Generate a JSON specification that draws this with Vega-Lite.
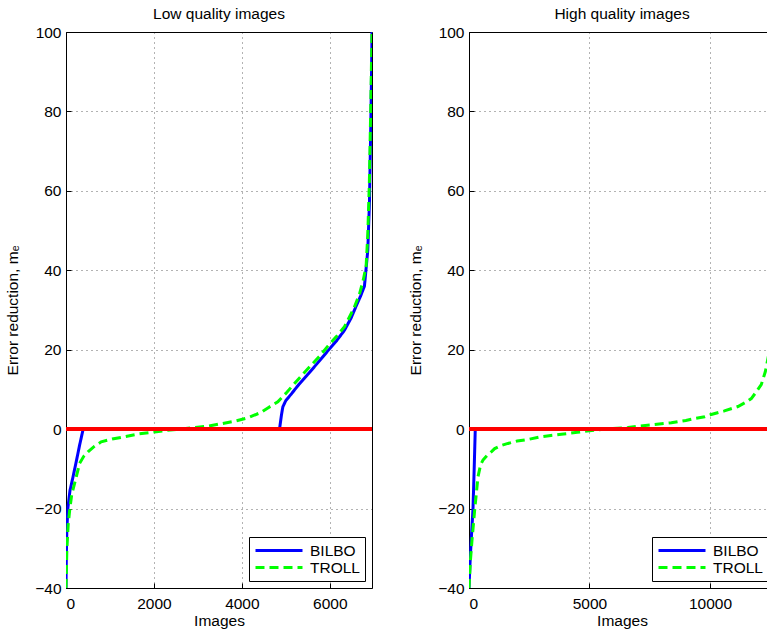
{
  "$schema": "https://vega.github.io/schema/vega-lite/v6.json",
  "padding": {"left": 5, "top": 6, "right": 0, "bottom": 0},
  "bounds": "flush",
  "spacing": 97,
  "config": {
    "font": "Liberation Sans",
    "view": {"stroke": "#000000", "strokeWidth": 1},
    "axis": {
      "grid": true,
      "gridColor": "#000000",
      "gridOpacity": 0.6,
      "gridDash": [1, 4],
      "gridWidth": 1,
      "domain": false,
      "ticks": true,
      "tickColor": "#000000",
      "tickSize": -5,
      "labelFontSize": 15.5,
      "labelColor": "#000000",
      "labelFont": "Liberation Sans",
      "titleFontSize": 15.5,
      "titleFontWeight": "normal",
      "titleColor": "#000000",
      "titleFont": "Liberation Sans"
    },
    "title": {"fontSize": 15.5, "fontWeight": "normal", "color": "#000000", "font": "Liberation Sans", "offset": 3, "frame": "group"},
    "legend": {
      "orient": "bottom-right",
      "offset": 7,
      "padding": 5,
      "strokeColor": "#000000",
      "fillColor": "#ffffff",
      "symbolType": "stroke",
      "symbolSize": 2209,
      "symbolStrokeWidth": 3,
      "labelFontSize": 15.5,
      "labelColor": "#000000",
      "labelFont": "Liberation Sans",
      "labelOffset": 6,
      "clipHeight": 17,
      "rowPadding": 0,
      "cornerRadius": 0
    }
  },
  "datasets": {
    "low": [
      {"x": 0, "y": -40, "method": "BILBO"},
      {"x": 8, "y": -32, "method": "BILBO"},
      {"x": 20, "y": -25, "method": "BILBO"},
      {"x": 45, "y": -19.6, "method": "BILBO"},
      {"x": 90, "y": -15.5, "method": "BILBO"},
      {"x": 160, "y": -12, "method": "BILBO"},
      {"x": 240, "y": -7.8, "method": "BILBO"},
      {"x": 310, "y": -4, "method": "BILBO"},
      {"x": 390, "y": 0, "method": "BILBO"},
      {"x": 4856, "y": 0, "method": "BILBO"},
      {"x": 4900, "y": 3.5, "method": "BILBO"},
      {"x": 4932, "y": 5.6, "method": "BILBO"},
      {"x": 5000, "y": 7.2, "method": "BILBO"},
      {"x": 5121, "y": 8.8, "method": "BILBO"},
      {"x": 5300, "y": 11.3, "method": "BILBO"},
      {"x": 5500, "y": 13.8, "method": "BILBO"},
      {"x": 5750, "y": 17, "method": "BILBO"},
      {"x": 5955, "y": 19.7, "method": "BILBO"},
      {"x": 6150, "y": 22.2, "method": "BILBO"},
      {"x": 6334, "y": 24.9, "method": "BILBO"},
      {"x": 6485, "y": 28, "method": "BILBO"},
      {"x": 6600, "y": 31, "method": "BILBO"},
      {"x": 6700, "y": 33.5, "method": "BILBO"},
      {"x": 6788, "y": 36, "method": "BILBO"},
      {"x": 6864, "y": 45, "method": "BILBO"},
      {"x": 6902, "y": 57, "method": "BILBO"},
      {"x": 6930, "y": 75, "method": "BILBO"},
      {"x": 6950, "y": 90, "method": "BILBO"},
      {"x": 6960, "y": 100, "method": "BILBO"},
      {"x": 0, "y": -40, "method": "TROLL"},
      {"x": 20, "y": -30, "method": "TROLL"},
      {"x": 50, "y": -24, "method": "TROLL"},
      {"x": 84, "y": -20.4, "method": "TROLL"},
      {"x": 130, "y": -16.5, "method": "TROLL"},
      {"x": 197, "y": -13.6, "method": "TROLL"},
      {"x": 310, "y": -8.6, "method": "TROLL"},
      {"x": 400, "y": -6.9, "method": "TROLL"},
      {"x": 500, "y": -5.7, "method": "TROLL"},
      {"x": 650, "y": -4.3, "method": "TROLL"},
      {"x": 800, "y": -3.2, "method": "TROLL"},
      {"x": 1050, "y": -2.5, "method": "TROLL"},
      {"x": 1333, "y": -1.9, "method": "TROLL"},
      {"x": 1650, "y": -1.2, "method": "TROLL"},
      {"x": 2015, "y": -0.7, "method": "TROLL"},
      {"x": 2300, "y": -0.3, "method": "TROLL"},
      {"x": 2614, "y": 0, "method": "TROLL"},
      {"x": 2900, "y": 0.4, "method": "TROLL"},
      {"x": 3227, "y": 0.75, "method": "TROLL"},
      {"x": 3500, "y": 1.3, "method": "TROLL"},
      {"x": 3834, "y": 2, "method": "TROLL"},
      {"x": 4150, "y": 2.9, "method": "TROLL"},
      {"x": 4432, "y": 4.2, "method": "TROLL"},
      {"x": 4600, "y": 5.4, "method": "TROLL"},
      {"x": 4818, "y": 6.9, "method": "TROLL"},
      {"x": 5000, "y": 9, "method": "TROLL"},
      {"x": 5197, "y": 11.5, "method": "TROLL"},
      {"x": 5400, "y": 14, "method": "TROLL"},
      {"x": 5576, "y": 16.1, "method": "TROLL"},
      {"x": 5780, "y": 18.5, "method": "TROLL"},
      {"x": 5955, "y": 20.9, "method": "TROLL"},
      {"x": 6150, "y": 23.3, "method": "TROLL"},
      {"x": 6334, "y": 25.8, "method": "TROLL"},
      {"x": 6450, "y": 28.3, "method": "TROLL"},
      {"x": 6550, "y": 30.5, "method": "TROLL"},
      {"x": 6675, "y": 34, "method": "TROLL"},
      {"x": 6760, "y": 37.5, "method": "TROLL"},
      {"x": 6826, "y": 41, "method": "TROLL"},
      {"x": 6864, "y": 49, "method": "TROLL"},
      {"x": 6900, "y": 62, "method": "TROLL"},
      {"x": 6930, "y": 80, "method": "TROLL"},
      {"x": 6960, "y": 100, "method": "TROLL"}
    ],
    "high": [
      {"x": 0, "y": -40, "method": "BILBO"},
      {"x": 40, "y": -34, "method": "BILBO"},
      {"x": 100, "y": -27, "method": "BILBO"},
      {"x": 166, "y": -20, "method": "BILBO"},
      {"x": 215, "y": -10, "method": "BILBO"},
      {"x": 260, "y": 0, "method": "BILBO"},
      {"x": 12550, "y": 0, "method": "BILBO"},
      {"x": 12640, "y": 20, "method": "BILBO"},
      {"x": 12700, "y": 100, "method": "BILBO"},
      {"x": 0, "y": -40, "method": "TROLL"},
      {"x": 60, "y": -33, "method": "TROLL"},
      {"x": 124, "y": -28, "method": "TROLL"},
      {"x": 235, "y": -20.4, "method": "TROLL"},
      {"x": 373, "y": -12, "method": "TROLL"},
      {"x": 480, "y": -9, "method": "TROLL"},
      {"x": 581, "y": -7.8, "method": "TROLL"},
      {"x": 750, "y": -6.6, "method": "TROLL"},
      {"x": 925, "y": -5.7, "method": "TROLL"},
      {"x": 1066, "y": -4.9, "method": "TROLL"},
      {"x": 1300, "y": -4.2, "method": "TROLL"},
      {"x": 1618, "y": -3.6, "method": "TROLL"},
      {"x": 2000, "y": -3, "method": "TROLL"},
      {"x": 2448, "y": -2.6, "method": "TROLL"},
      {"x": 2900, "y": -2, "method": "TROLL"},
      {"x": 3400, "y": -1.6, "method": "TROLL"},
      {"x": 3830, "y": -1.3, "method": "TROLL"},
      {"x": 4500, "y": -0.8, "method": "TROLL"},
      {"x": 5216, "y": -0.25, "method": "TROLL"},
      {"x": 5800, "y": 0.1, "method": "TROLL"},
      {"x": 6600, "y": 0.4, "method": "TROLL"},
      {"x": 7014, "y": 0.75, "method": "TROLL"},
      {"x": 7600, "y": 1.1, "method": "TROLL"},
      {"x": 8398, "y": 1.6, "method": "TROLL"},
      {"x": 9000, "y": 2.2, "method": "TROLL"},
      {"x": 9366, "y": 2.7, "method": "TROLL"},
      {"x": 9781, "y": 3.1, "method": "TROLL"},
      {"x": 10055, "y": 3.7, "method": "TROLL"},
      {"x": 10600, "y": 4.6, "method": "TROLL"},
      {"x": 11163, "y": 5.7, "method": "TROLL"},
      {"x": 11500, "y": 6.8, "method": "TROLL"},
      {"x": 11716, "y": 7.7, "method": "TROLL"},
      {"x": 11900, "y": 9.2, "method": "TROLL"},
      {"x": 12130, "y": 11.2, "method": "TROLL"},
      {"x": 12300, "y": 14.5, "method": "TROLL"},
      {"x": 12480, "y": 20, "method": "TROLL"},
      {"x": 12620, "y": 42, "method": "TROLL"},
      {"x": 12700, "y": 100, "method": "TROLL"}
    ]
  },
  "resolve": {
    "scale": {"x": "independent", "y": "independent", "color": "independent", "strokeDash": "independent"},
    "legend": {"color": "independent", "strokeDash": "independent"}
  },
  "hconcat": [
    {
      "width": 306,
      "height": 556,
      "title": "Low quality images",
      "data": {"name": "low"},
      "layer": [
        {
          "mark": {"type": "line", "strokeWidth": 3, "clip": true},
          "encoding": {
            "x": {"field": "x", "type": "quantitative", "scale": {"domain": [0, 6960], "nice": false, "zero": false}, "axis": {"values": [0, 2000, 4000, 6000], "format": "d", "title": "Images", "labelPadding": 13, "titlePadding": 2}},
            "y": {"field": "y", "type": "quantitative", "scale": {"domain": [-40, 100], "nice": false}, "axis": {"values": [-40, -20, 0, 20, 40, 60, 80, 100], "format": "d", "title": "Error reduction, mₑ", "labelPadding": 10, "titlePadding": 14}},
            "color": {"field": "method", "type": "nominal", "scale": {"domain": ["BILBO", "TROLL"], "range": ["#0000ff", "#00ff00"]}, "legend": {"title": null}},
            "strokeDash": {"field": "method", "type": "nominal", "scale": {"domain": ["BILBO", "TROLL"], "range": [[1, 0], [9, 5]]}, "legend": {"title": null}}
          }
        },
        {
          "mark": {"type": "rule", "color": "#ff0000", "strokeWidth": 3},
          "encoding": {"y": {"datum": 0}}
        }
      ]
    },
    {
      "width": 306,
      "height": 556,
      "title": "High quality images",
      "data": {"name": "high"},
      "layer": [
        {
          "mark": {"type": "line", "strokeWidth": 3, "clip": true},
          "encoding": {
            "x": {"field": "x", "type": "quantitative", "scale": {"domain": [0, 12700], "nice": false, "zero": false}, "axis": {"values": [0, 5000, 10000], "format": "d", "title": "Images", "labelPadding": 13, "titlePadding": 2}},
            "y": {"field": "y", "type": "quantitative", "scale": {"domain": [-40, 100], "nice": false}, "axis": {"values": [-40, -20, 0, 20, 40, 60, 80, 100], "format": "d", "title": "Error reduction, mₑ", "labelPadding": 10, "titlePadding": 14}},
            "color": {"field": "method", "type": "nominal", "scale": {"domain": ["BILBO", "TROLL"], "range": ["#0000ff", "#00ff00"]}, "legend": {"title": null}},
            "strokeDash": {"field": "method", "type": "nominal", "scale": {"domain": ["BILBO", "TROLL"], "range": [[1, 0], [9, 5]]}, "legend": {"title": null}}
          }
        },
        {
          "mark": {"type": "rule", "color": "#ff0000", "strokeWidth": 3},
          "encoding": {"y": {"datum": 0}}
        }
      ]
    }
  ]
}
